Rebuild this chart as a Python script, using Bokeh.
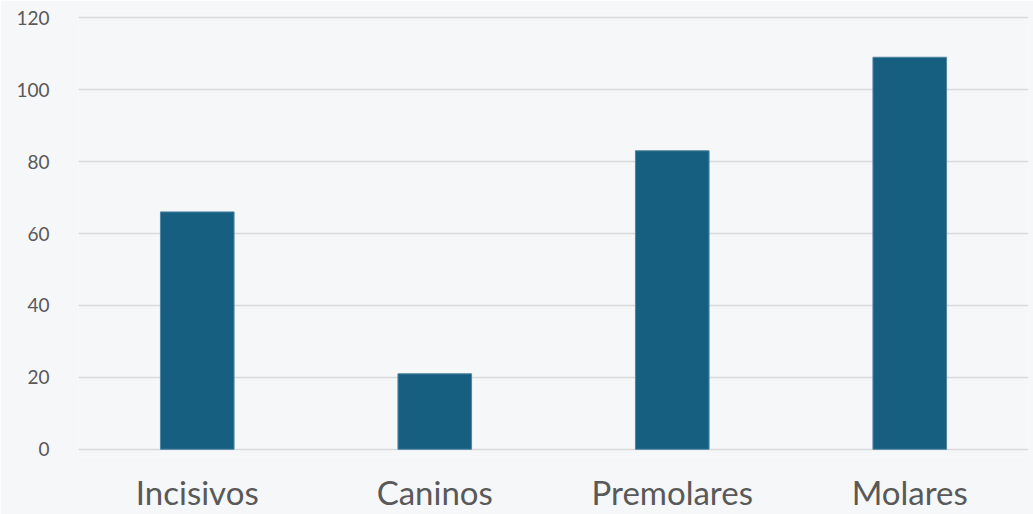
from bokeh.plotting import figure
from bokeh.models import Range1d, FactorRange
from bokeh.embed import file_html
from bokeh.resources import INLINE

categories = ["Incisivos", "Caninos", "Premolares", "Molares"]
values = [66, 21, 83, 109]
y_ticks = [0, 20, 40, 60, 80, 100, 120]

BG = "#F6F7F9"
p = figure(x_range=FactorRange(*categories, range_padding=0), y_range=Range1d(-2, 122),
           width=1033, height=514, output_backend="svg", toolbar_location=None,
           min_border_left=78, min_border_right=5, min_border_top=10, min_border_bottom=58)
p.background_fill_color = BG
p.border_fill_color = BG
p.outline_line_color = None

p.vbar(x=categories, top=values, bottom=0, width=0.31, fill_color="#175F80",
       line_color="#4F86A3", line_width=1)

p.xgrid.grid_line_color = None
p.ygrid.grid_line_color = "#D9D9D9"
p.ygrid.grid_line_width = 1.5
p.yaxis.ticker = y_ticks
p.yaxis.axis_line_color = None
p.yaxis.major_tick_line_color = None
p.yaxis.minor_tick_line_color = None
p.yaxis.major_label_text_font = "Lato"
p.yaxis.major_label_text_font_size = "19px"
p.yaxis.major_label_text_color = "#595959"
p.yaxis.major_label_standoff = 23

p.xaxis.axis_line_color = None
p.xaxis.major_tick_line_color = None
p.xaxis.major_label_text_font = "Lato"
p.xaxis.major_label_text_font_size = "33px"
p.xaxis.major_label_text_color = "#595959"
p.xaxis.major_label_standoff = 9

open("out.html", "w").write(file_html(p, INLINE))
